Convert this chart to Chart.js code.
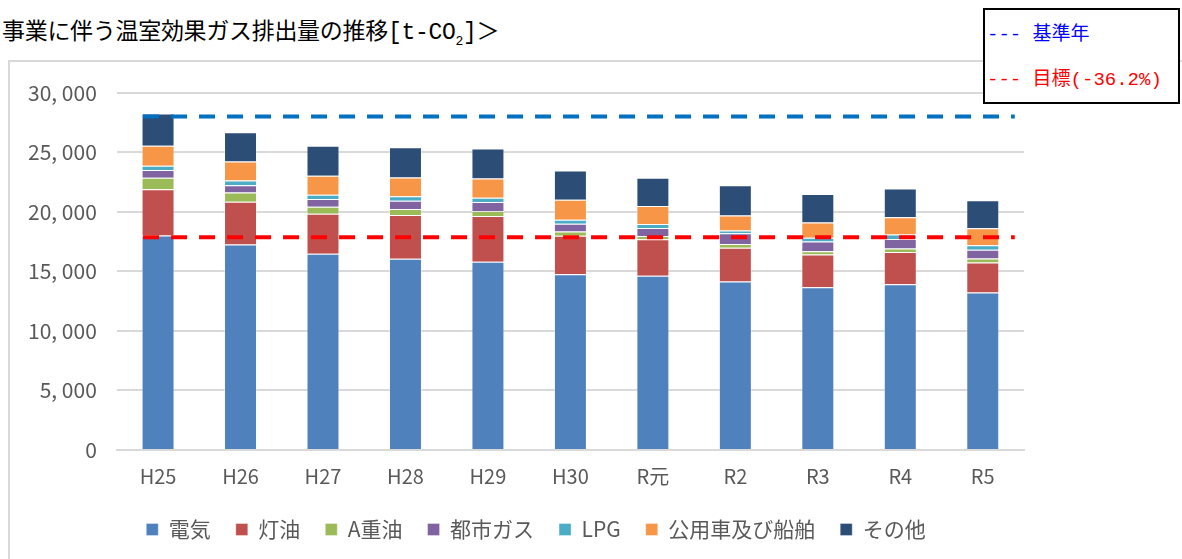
<!DOCTYPE html>
<html>
<head>
<meta charset="utf-8">
<script src="https://cdn.jsdelivr.net/npm/chart.js@4"></script>
<style>
  body { margin: 0; width: 1182px; height: 559px; overflow: hidden; background: #fff; font-family: "Noto Sans CJK JP", sans-serif; }
  .title { position: absolute; left: 2px; top: 12px; font-size: 23px; color: #000; font-family: "Liberation Mono", "Noto Sans CJK JP", monospace; letter-spacing: -0.3px; }
  .frame { position: absolute; left: 8px; top: 60px; width: 1200px; height: 520px; border: 2px solid #d9d9d9; box-sizing: border-box; }
  .wrap { position: absolute; left: 8px; top: 60px; width: 1174px; height: 499px; }
  .note { position: absolute; left: 983px; top: 8px; width: 197px; height: 96px; border: 2px solid #000; box-sizing: border-box; background: #fff; font-size: 19px; font-family: "Liberation Mono", "Noto Sans CJK JP", monospace; }
  .note div { position: absolute; left: 2px; white-space: pre; }
</style>
</head>
<body>
<div class="title">事業に伴う温室効果ガス排出量の推移[t-CO<sub style="font-size:13px">2</sub>]＞</div>
<div class="frame"></div>
<div class="wrap"><canvas id="chart"></canvas></div>
<div class="note">
  <div style="top:8px;color:#0000ff">--- 基準年</div>
  <div style="top:53px;color:#ff0000">--- 目標(-36.2%)</div>
</div>
<script>
const years = ["H25", "H26", "H27", "H28", "H29", "H30", "R元", "R2", "R3", "R4", "R5"];
const electricity = [18000, 17260, 16480, 16060, 15810, 14750, 14620, 14150, 13670, 13920, 13230];
const kerosene = [3880, 3580, 3350, 3660, 3830, 3240, 3070, 2820, 2740, 2710, 2510];
const heavyOilA = [980, 780, 590, 500, 420, 360, 280, 330, 280, 280, 340];
const cityGas = [640, 610, 640, 700, 750, 650, 670, 900, 810, 810, 720];
const lpg = [360, 400, 370, 390, 360, 330, 340, 220, 310, 370, 390];
const vehicles = [1680, 1590, 1590, 1570, 1620, 1680, 1500, 1260, 1280, 1450, 1430];
const others = [2710, 2450, 2510, 2540, 2520, 2450, 2380, 2540, 2400, 2400, 2340];
const baseYear = 28000;
const target = 17864;

const series = [
  ["電気", electricity, "#4f81bd"],
  ["灯油", kerosene, "#c0504d"],
  ["A重油", heavyOilA, "#9bbb59"],
  ["都市ガス", cityGas, "#8064a2"],
  ["LPG", lpg, "#4bacc6"],
  ["公用車及び船舶", vehicles, "#f79646"],
  ["その他", others, "#2c4d75"],
];

const refLines = {
  id: "refLines",
  afterLayout(chart) {
    // legend sits a bit right of the plot centre in the original
    chart.legend.left += 20;
    chart.legend.right += 20;
  },
  afterDatasetsDraw(chart) {
    const { ctx, scales } = chart;
    const x0 = scales.x.getPixelForValue(0) - 15;
    const x1 = scales.x.getPixelForValue(years.length - 1) + 32;
    [[baseYear, "#0070c0"], [target, "#ff0000"]].forEach(([v, c]) => {
      const y = scales.y.getPixelForValue(v);
      ctx.save();
      ctx.strokeStyle = c;
      ctx.lineWidth = 4;
      ctx.setLineDash([16, 12]);
      ctx.beginPath();
      ctx.moveTo(x0, y);
      ctx.lineTo(x1, y);
      ctx.stroke();
      ctx.restore();
    });
  },
};

new Chart(document.getElementById("chart"), {
  type: "bar",
  data: {
    labels: years,
    datasets: series.map(([label, data, color]) => ({
      label: label,
      data: data,
      backgroundColor: color,
      borderColor: "rgba(255,255,255,0.35)",
      borderWidth: 1,
      categoryPercentage: 1,
      barPercentage: 0.4,
    })),
  },
  options: {
    responsive: true,
    maintainAspectRatio: false,
    animation: false,
    layout: { padding: { top: 14, right: 158, left: 0, bottom: 9 } },
    scales: {
      x: {
        stacked: true,
        grid: { display: false },
        border: { color: "#d9d9d9", width: 2 },
        ticks: { color: "#595959", font: { size: 20, family: "Noto Sans CJK JP" }, padding: 6 },
      },
      y: {
        stacked: true,
        min: 0,
        max: 30000,
        grid: { color: "#d9d9d9", lineWidth: 2, drawTicks: false },
        border: { display: false },
        ticks: {
          stepSize: 5000,
          color: "#595959",
          padding: 20,
          font: { size: 21, family: "Noto Sans CJK JP" },
          callback: (v) => v.toLocaleString("en-US").replace(",", ", "),
        },
      },
    },
    plugins: {
      legend: {
        position: "bottom",
        labels: {
          color: "#595959",
          font: { size: 21, family: "Noto Sans CJK JP" },
          boxWidth: 12,
          boxHeight: 12,
          padding: 25,
        },
      },
      tooltip: { enabled: false },
    },
  },
  plugins: [refLines],
});
</script>
</body>
</html>
